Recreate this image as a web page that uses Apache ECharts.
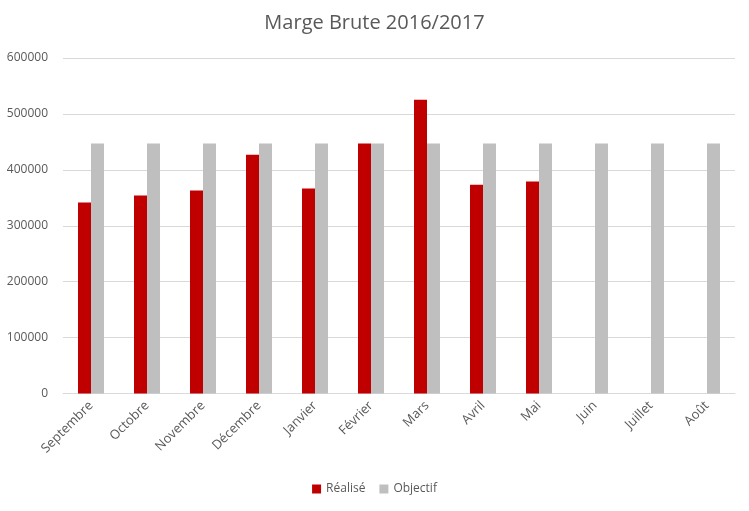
<!DOCTYPE html>
<html><head><meta charset="utf-8">
<script src="https://cdn.jsdelivr.net/npm/echarts@6/dist/echarts.min.js"></script>
<style>html,body{margin:0;padding:0;background:#fff}#c{width:749px;height:511px}</style>
</head><body><div id="c"></div>
<script>
const categories = ['Septembre','Octobre','Novembre','Décembre','Janvier','Février','Mars','Avril','Mai','Juin','Juillet','Août'];
const realise = [341500, 354000, 363000, 427000, 366500, 447000, 525500, 373500, 379000, null, null, null];
const objectif = [447000, 447000, 447000, 447000, 447000, 447000, 447000, 447000, 447000, 447000, 447000, 447000];
const yTicks = [0, 100000, 200000, 300000, 400000, 500000, 600000];

const chart = echarts.init(document.getElementById('c'), null, {renderer:'canvas'});
const font = '"Open Sans", "Liberation Sans", sans-serif';
chart.setOption({
  animation: false,
  title: {text: 'Marge Brute 2016/2017', left: 'center', top: 8,
    textStyle: {fontFamily: font, fontSize: 20, fontWeight: 'normal', color: '#595959'}},
  legend: {bottom: 11, left: 'center', itemWidth: 9, itemHeight: 9, itemGap: 14, icon: 'rect',
    textStyle: {fontFamily: font, fontSize: 12, color: '#595959'}},
  grid: {left: 63, right: 14, top: 58, bottom: 117.5, containLabel: false},
  xAxis: {type: 'category', data: categories,
    axisLine: {lineStyle: {color: '#d9d9d9'}}, axisTick: {show: false},
    axisLabel: {rotate: 45, fontFamily: font, fontSize: 13, color: '#595959', margin: 10, interval: 0}},
  yAxis: {type: 'value', min: yTicks[0], max: yTicks[yTicks.length-1], interval: 100000,
    axisLine: {show: false}, axisTick: {show: false},
    splitLine: {lineStyle: {color: '#d9d9d9'}},
    axisLabel: {fontFamily: font, fontSize: 12, color: '#595959', margin: 15, formatter: v => String(v)}},
  series: [
    {name: 'Réalisé', type: 'bar', data: realise, barWidth: 13, barGap: '0%', itemStyle: {color: '#c00000'}},
    {name: 'Objectif', type: 'bar', data: objectif, barWidth: 13, barGap: '0%', itemStyle: {color: '#bfbfbf'}}
  ]
});
</script></body></html>
